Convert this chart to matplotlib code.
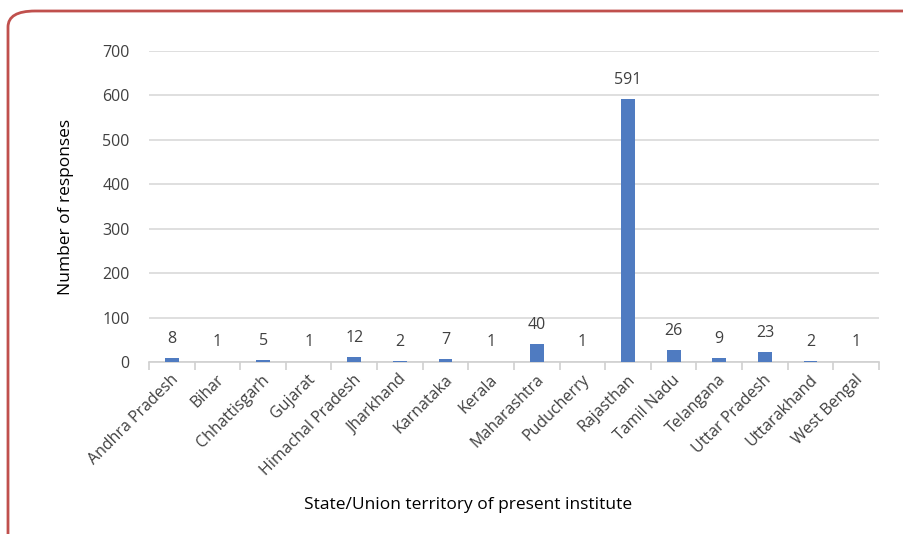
import numpy as np
import matplotlib
matplotlib.use("Agg")
import matplotlib.pyplot as plt
from matplotlib.patches import FancyBboxPatch

states = ["Andhra Pradesh", "Bihar", "Chhattisgarh", "Gujarat", "Himachal Pradesh",
          "Jharkhand", "Karnataka", "Kerala", "Maharashtra", "Puducherry", "Rajasthan",
          "Tamil Nadu", "Telangana", "Uttar Pradesh", "Uttarakhand", "West Bengal"]
responses = [8, 1, 5, 1, 12, 2, 7, 1, 40, 1, 591, 26, 9, 23, 2, 1]
yticks = [0, 100, 200, 300, 400, 500, 600, 700]

plt.rcParams['font.family'] = ['Open Sans', 'DejaVu Sans']
txt = '#404040'

fig = plt.figure(figsize=(9.04, 5.34), dpi=100)
ax = fig.add_axes([149/904, 1 - 362/534, 730/904, 311/534])

x = np.arange(len(states))
ax.bar(x, responses, width=0.3, color='#4f7bc1', zorder=3)
for xi, v in zip(x, responses):
    ax.annotate(str(v), (xi, v), xytext=(0, 8), textcoords='offset points',
                ha='center', va='bottom', fontsize=11.5, color=txt)

ax.set_xlim(-0.5, len(states) - 0.5)
ax.set_ylim(0, 700)
ax.set_yticks(yticks)
ax.yaxis.grid(True, color='#d9d9d9', linewidth=1.2, zorder=0)
for s in ['top', 'right', 'left']:
    ax.spines[s].set_visible(False)
ax.spines['bottom'].set_color('#d0d0d0')
ax.spines['bottom'].set_linewidth(1.2)
ax.tick_params(axis='y', length=0, labelsize=11.5, labelcolor=txt, pad=14)

# category boundaries carry the tick marks, names are placed by hand
ax.set_xticks(np.arange(-0.5, len(states) + 0.5, 1.0))
ax.set_xticklabels([])
ax.tick_params(axis='x', length=6, color='#d0d0d0', width=1.2)
for xi, name in zip(x, states):
    ax.annotate(name, (xi, 0), xytext=(-1, -7), textcoords='offset points',
                rotation=45, ha='right', va='top', rotation_mode='anchor',
                fontsize=11.5, color=txt)

ax.set_ylabel('Number of responses', fontsize=12.5, color='#000000', labelpad=20)
fig.text(468/904, 1 - 505/534, 'State/Union territory of present institute',
         ha='center', va='center', fontsize=12.5, color='#000000')

border = FancyBboxPatch((8/904, -0.1), 1.1, 1 - 11/534 + 0.1,
                        boxstyle='round,pad=0,rounding_size=0.03',
                        transform=fig.transFigure, fill=False,
                        edgecolor='#c0504d', linewidth=2, clip_on=False)
fig.patches.append(border)

fig.savefig('out.png', dpi=100)
